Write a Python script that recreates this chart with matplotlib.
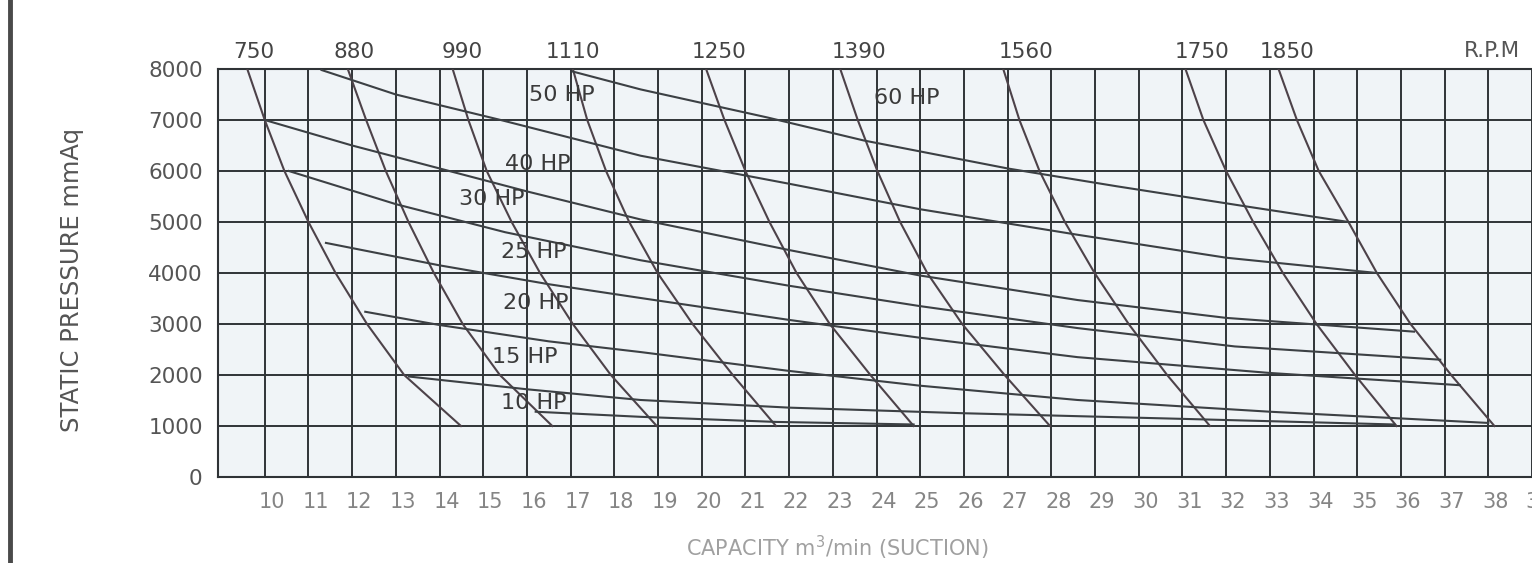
import numpy as np
import matplotlib.pyplot as plt
from matplotlib.lines import Line2D
from matplotlib.transforms import ScaledTranslation

# pressure levels (mmAq) where the RPM curves were read
p_levels = [8000, 7000, 6000, 5000, 4000, 3000, 2000, 1000]

# capacity (m3/min) of each RPM curve at those pressures
rpm_750 = [9.6, 10.0, 10.45, 11.0, 11.62, 12.34, 13.19, 14.49]
rpm_880 = [11.9, 12.32, 12.77, 13.29, 13.87, 14.53, 15.38, 16.58]
rpm_990 = [14.3, 14.66, 15.08, 15.65, 16.3, 17.05, 17.92, 18.97]
rpm_1110 = [17.05, 17.38, 17.81, 18.34, 18.99, 19.79, 20.71, 21.7]
rpm_1250 = [20.1, 20.52, 21.0, 21.55, 22.17, 22.93, 23.86, 24.85]
rpm_1390 = [23.17, 23.57, 24.02, 24.54, 25.16, 25.96, 26.93, 27.97]
rpm_1560 = [26.9, 27.27, 27.73, 28.31, 28.99, 29.77, 30.65, 31.63]
rpm_1750 = [31.07, 31.48, 32.0, 32.62, 33.3, 34.07, 34.95, 35.9]
rpm_1850 = [33.2, 33.62, 34.12, 34.8, 35.45, 36.22, 37.15, 38.14]
rpm_curves = [rpm_750, rpm_880, rpm_990, rpm_1110, rpm_1250,
              rpm_1390, rpm_1560, rpm_1750, rpm_1850]
rpm_labels = ['750', '880', '990', '1110', '1250', '1390', '1560', '1750', '1850']
rpm_label_x = [9.75, 12.05, 14.52, 17.05, 20.39, 23.61, 27.43, 31.45, 33.39]

# motor power lines (capacity, pressure)
hp60_x = [17.05, 18.6, 21.5, 23.7, 27.0, 29.5, 32.5, 34.8]
hp60_y = [7950, 7600, 7050, 6600, 6050, 5700, 5300, 5000]
hp50_x = [11.3, 13.0, 15.4, 18.6, 22.0, 25.0, 28.6, 32.0, 35.45]
hp50_y = [7980, 7500, 7000, 6300, 5750, 5250, 4750, 4300, 4000]
hp40_x = [10.0, 12.0, 14.0, 16.0, 18.6, 22.0, 25.0, 28.6, 32.0, 36.3]
hp40_y = [7000, 6500, 6050, 5600, 5050, 4450, 3950, 3470, 3120, 2850]
hp30_x = [10.55, 13.0, 15.5, 18.6, 22.0, 25.0, 28.6, 32.2, 36.9]
hp30_y = [6000, 5350, 4800, 4250, 3750, 3350, 2920, 2560, 2300]
hp25_x = [11.4, 14.0, 16.5, 18.6, 22.0, 25.0, 28.6, 33.0, 37.35]
hp25_y = [4590, 4150, 3780, 3510, 3080, 2730, 2350, 2040, 1800]
hp20_x = [12.3, 14.0, 16.5, 18.6, 22.0, 25.0, 28.6, 33.0, 38.0]
hp20_y = [3240, 2980, 2660, 2450, 2080, 1790, 1510, 1280, 1060]
hp15_x = [13.3, 16.0, 18.6, 22.0, 26.0, 31.0, 35.85]
hp15_y = [1970, 1720, 1510, 1360, 1250, 1140, 1030]
hp10_x = [16.2, 18.6, 21.7, 24.85]
hp10_y = [1280, 1180, 1080, 1030]
hp_x = [hp60_x, hp50_x, hp40_x, hp30_x, hp25_x, hp20_x, hp15_x, hp10_x]
hp_y = [hp60_y, hp50_y, hp40_y, hp30_y, hp25_y, hp20_y, hp15_y, hp10_y]
hp_labels = ['60 HP', '50 HP', '40 HP', '30 HP', '25 HP', '20 HP', '15 HP', '10 HP']
hp_label_x = [24.7, 16.8, 16.25, 15.2, 16.15, 16.2, 15.95, 16.15]
hp_label_y = [7430, 7490, 6140, 5450, 4410, 3410, 2350, 1450]

x_ticks = list(range(10, 40))
y_ticks = list(range(0, 9000, 1000))

fig = plt.figure(figsize=(15.32, 5.63), dpi=100)
ax = fig.add_axes([218 / 1532, 1 - 477 / 563, 1314 / 1532, 408 / 563])
ax.set_facecolor('#f0f4f7')

for xs in rpm_curves:
    ax.plot(xs, p_levels, color='#4d4249', lw=1.5, zorder=3)
for xs, ys in zip(hp_x, hp_y):
    ax.plot(xs, ys, color='#3c4044', lw=1.5, zorder=3)

for lab, lx, ly in zip(hp_labels, hp_label_x, hp_label_y):
    ax.text(lx, ly, lab, ha='center', va='center', fontsize=16,
            color='#3a3a3a', zorder=4)

for lab, lx in zip(rpm_labels, rpm_label_x):
    ax.text(lx, 8330, lab, ha='center', va='center', fontsize=15.5,
            color='#444444', clip_on=False)
ax.text(37.45, 8350, 'R.P.M', ha='left', va='center', fontsize=15.5,
        color='#555555', clip_on=False)

ax.set_xlim(8.93, 38.84)
ax.set_ylim(0, 8000)
ax.set_xticks(x_ticks)
ax.set_yticks(y_ticks)
ax.set_xticklabels([str(v) for v in x_ticks], fontsize=15, color='#858585')
ax.set_yticklabels([str(v) for v in y_ticks], fontsize=15.5, color='#555555')
ax.tick_params(length=0)
ax.tick_params(axis='x', pad=11)
ax.tick_params(axis='y', pad=11)
shift = ScaledTranslation(7 / 100, 0, fig.dpi_scale_trans)
for t in ax.get_xticklabels():
    t.set_transform(t.get_transform() + shift)

ax.grid(True, color='#2f3336', lw=1.4, zorder=1)
ax.set_axisbelow(True)
for s in ['left', 'top', 'bottom']:
    ax.spines[s].set_color('#2f3336')
    ax.spines[s].set_linewidth(1.5)
ax.spines['right'].set_visible(False)

ax.set_xlabel('CAPACITY m$^3$/min (SUCTION)', fontsize=15, color='#a0a0a0')
ax.xaxis.set_label_coords((837 - 218) / 1314, (477 - 548) / 408)
ax.xaxis.label.set_va('center')
ax.set_ylabel('STATIC PRESSURE mmAq', fontsize=17.5, color='#555555')
ax.yaxis.set_label_coords((72 - 218) / 1314, (477 - 280) / 408)
ax.yaxis.label.set_va('center')

fig.add_artist(Line2D([9.5 / 1532, 9.5 / 1532], [0, 1], color='#4a4a4a', lw=3.5))

fig.savefig('out.png', dpi=100)
